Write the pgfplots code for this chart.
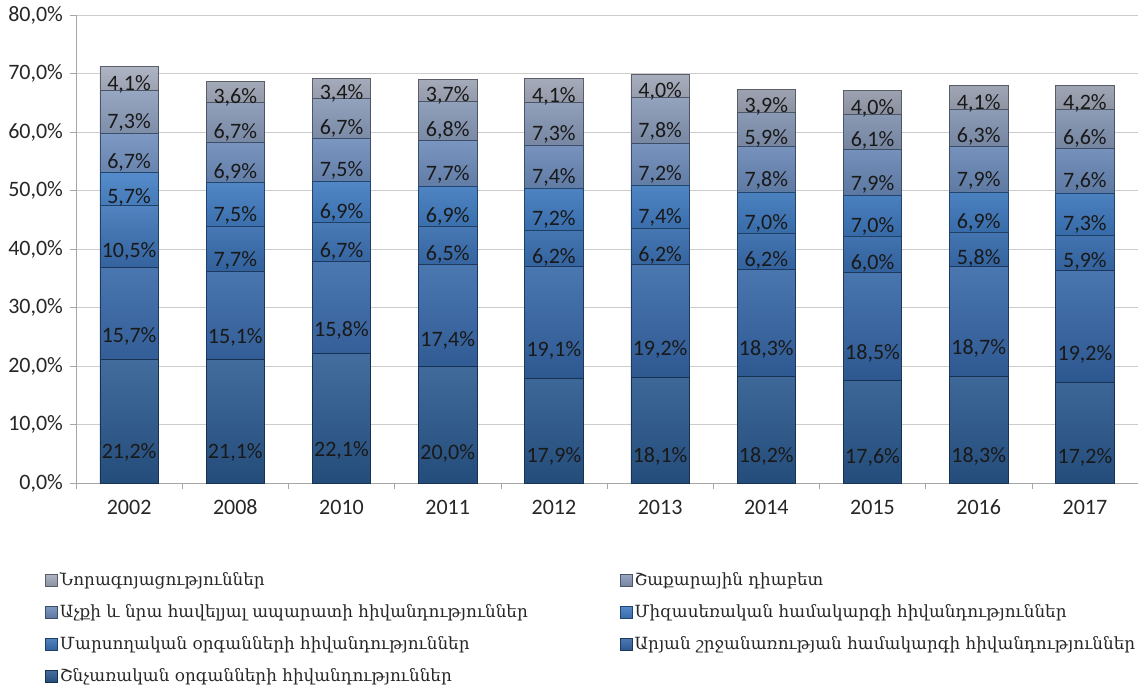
\documentclass[border=0pt]{standalone}
\usepackage{pgfplots}
\usepackage{pgfplotstable}
\pgfplotsset{compat=1.18}
\usepackage{fontspec}
\setmainfont{Carlito}
\newfontfamily\armfont{DejaVu Serif}
\definecolor{c1}{HTML}{2A5A91}
\definecolor{c2}{HTML}{3466A8}
\definecolor{c3}{HTML}{3A72B7}
\definecolor{c4}{HTML}{3F7CC4}
\definecolor{c5}{HTML}{6C8CBC}
\definecolor{c6}{HTML}{899BBA}
\definecolor{c7}{HTML}{A3AABB}
\pgfplotstableread{
x a b c d e f g
0 21.2 15.7 10.5 5.7 6.7 7.3 4.1
1 21.1 15.1 7.7 7.5 6.9 6.7 3.6
2 22.1 15.8 6.7 6.9 7.5 6.7 3.4
3 20.0 17.4 6.5 6.9 7.7 6.8 3.7
4 17.9 19.1 6.2 7.2 7.4 7.3 4.1
5 18.1 19.2 6.2 7.4 7.2 7.8 4.0
6 18.2 18.3 6.2 7.0 7.8 5.9 3.9
7 17.6 18.5 6.0 7.0 7.9 6.1 4.0
8 18.3 18.7 5.8 6.9 7.9 6.3 4.1
9 17.2 19.2 5.9 7.3 7.6 6.6 4.2
}\data
\newcommand{\lt}[1]{\makebox[279pt][l]{\armfont #1}}
\tikzset{seg/.style={top color=#1!88!white, bottom color=#1!85!black, draw=#1!55!black, line width=0.3pt}}
\begin{document}
\begin{tikzpicture}
\useasboundingbox (-38pt,-106.5pt) rectangle (531pt,241.5pt);
\begin{axis}[
  at={(0,0)}, anchor=south west,
  scale only axis, width=531pt, height=234pt,
  ybar stacked, bar width=0.55,
  xmin=-0.5, xmax=9.5, ymin=0, ymax=80,
  /pgf/number format/assume math mode=true,
  ytick={0,10,...,80},
  yticklabel={\pgfmathprintnumber[fixed,fixed zerofill,precision=1,use comma]{\tick}\%},
  xtick={0,...,9},
  xticklabels={2002,2008,2010,2011,2012,2013,2014,2015,2016,2017},
  typeset ticklabels with strut,
  minor xtick={-0.5,0.5,...,9.5},
  major x tick style={draw=none},
  axis lines=left,
  axis line style={-, draw=gray!70},
  tick style={draw=gray!70},
  tick align=outside,
  major tick length=3pt, minor tick length=3pt,
  ymajorgrids, grid style={gray!40},
  ticklabel style={font=\fontsize{11}{13}\selectfont, text=black!85},
  point meta=explicit,
  visualization depends on={rawy \as \rawy},
  nodes near coords={\pgfmathprintnumber[fixed,fixed zerofill,precision=1,use comma]{\pgfplotspointmeta}\%},
  every node near coord/.append style={anchor=center, yshift={-0.73125pt*\rawy}, font=\fontsize{11}{13}\selectfont, text=black!90},
  legend columns=2,
  reverse legend,
  legend style={at={(0,0)}, anchor=north west, xshift=-15.5pt, yshift=-44pt, draw=none, fill=none,
    inner sep=0pt, row sep=7pt, column sep=0pt,
    nodes={inner sep=0pt, inner xsep=1pt, text height=7pt, text depth=2pt},
    font=\fontsize{8.4}{10}\selectfont, text=black!85},
  legend image code/.code={\draw[#1] (0pt,-3pt) rectangle (6pt,3pt);},
]
\addplot[seg=c1] table[x=x,y=a,meta=a]{\data};
\addplot[seg=c2] table[x=x,y=b,meta=b]{\data};
\addplot[seg=c3] table[x=x,y=c,meta=c]{\data};
\addplot[seg=c4] table[x=x,y=d,meta=d]{\data};
\addplot[seg=c5] table[x=x,y=e,meta=e]{\data};
\addplot[seg=c6] table[x=x,y=f,meta=f]{\data};
\addplot[seg=c7] table[x=x,y=g,meta=g]{\data};
\legend{\lt{Շնչառական օրգանների հիվանդություններ},\lt{Արյան շրջանառության համակարգի հիվանդություններ},\lt{Մարսողական օրգանների հիվանդություններ},\lt{Միզասեռական համակարգի հիվանդություններ},\lt{Աչքի և նրա հավելյալ ապարատի հիվանդություններ},\lt{Շաքարային դիաբետ},\lt{Նորագոյացություններ}}
\end{axis}
\end{tikzpicture}
\end{document}
